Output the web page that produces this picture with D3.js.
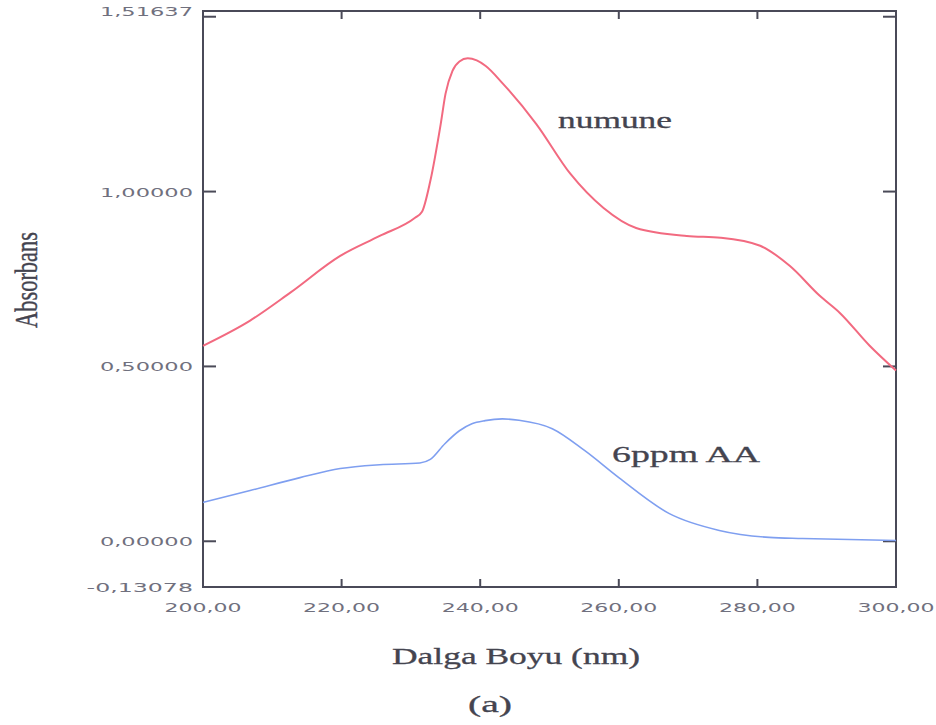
<!DOCTYPE html>
<html>
<head>
<meta charset="utf-8">
<script src="https://cdn.jsdelivr.net/npm/d3@7"></script>
<style>
  body { margin: 0; background: #fff; }
  svg { display: block; }
</style>
</head>
<body>
<svg id="chart" width="936" height="725"></svg>
<script>
// wavelength (nm) and absorbance
var numuneX = [200, 206.8, 212.6, 219.8, 225.5, 230.6, 231.6, 232.8, 234.3, 235.0, 236.0, 237.0, 238.2, 239.5, 240.8, 243.3, 248.1, 253, 257.8, 262.5, 269.8, 274.7, 280.4, 284.7, 289, 291.9, 296.2, 300];
var numuneY = [0.559, 0.631, 0.711, 0.816, 0.873, 0.925, 0.942, 1.030, 1.193, 1.280, 1.345, 1.372, 1.381, 1.375, 1.359, 1.308, 1.193, 1.051, 0.953, 0.896, 0.873, 0.868, 0.845, 0.787, 0.702, 0.653, 0.559, 0.488];

var aaX = [200, 206.8, 214, 219.8, 225.5, 231.3, 232.8, 234.9, 237, 238.8, 240.7, 243.2, 245.6, 250.4, 255.1, 260, 267.3, 274.5, 281.7, 286.5, 300];
var aaY = [0.111, 0.145, 0.182, 0.208, 0.219, 0.224, 0.234, 0.279, 0.316, 0.336, 0.345, 0.350, 0.346, 0.322, 0.259, 0.182, 0.079, 0.031, 0.011, 0.008, 0.002];

var xTicks = [200, 220, 240, 260, 280, 300];
var xTickLabels = ["200,00", "220,00", "240,00", "260,00", "280,00", "300,00"];
var yTicks = [0, 0.5, 1.0, 1.5];
var yLabelValues = [-0.13078, 0, 0.5, 1.0, 1.51637];
var yLabels = ["-0,13078", "0,00000", "0,50000", "1,00000", "1,51637"];

var svg = d3.select("#chart");

// plot frame, in pixels
var plotL = 203, plotR = 896, plotT = 11, plotB = 587;

var x = d3.scaleLinear().domain([200, 300]).range([plotL, plotR]);
var y = d3.scaleLinear().domain([-0.13078, 1.51637]).range([plotB, plotT]);

var frameColor = "#4a4a58";
var labelColor = "#70707e";
var textColor = "#44444f";

// frame
svg.append("rect")
    .attr("x", plotL).attr("y", plotT)
    .attr("width", plotR - plotL).attr("height", plotB - plotT)
    .attr("fill", "none")
    .attr("stroke", frameColor)
    .attr("stroke-width", 2);

// ticks, inward on all four sides
var inner = xTicks.slice(1, -1);
svg.selectAll(".xtb").data(inner).enter().append("line")
    .attr("x1", d => x(d)).attr("x2", d => x(d))
    .attr("y1", plotB).attr("y2", plotB - 8)
    .attr("stroke", frameColor).attr("stroke-width", 2);
svg.selectAll(".xtt").data(inner).enter().append("line")
    .attr("x1", d => x(d)).attr("x2", d => x(d))
    .attr("y1", plotT).attr("y2", plotT + 8)
    .attr("stroke", frameColor).attr("stroke-width", 2);
svg.selectAll(".ytl").data(yTicks).enter().append("line")
    .attr("x1", plotL).attr("x2", plotL + 13)
    .attr("y1", d => y(d)).attr("y2", d => y(d))
    .attr("stroke", frameColor).attr("stroke-width", 2);
svg.selectAll(".ytr").data(yTicks).enter().append("line")
    .attr("x1", plotR).attr("x2", plotR - 13)
    .attr("y1", d => y(d)).attr("y2", d => y(d))
    .attr("stroke", frameColor).attr("stroke-width", 2);

// tick labels
svg.selectAll(".xl").data(xTicks).enter().append("text")
    .attr("x", d => x(d))
    .attr("y", 612)
    .attr("text-anchor", "middle")
    .attr("font-family", "DejaVu Sans, sans-serif")
    .attr("font-size", 12)
    .attr("fill", labelColor)
    .attr("textLength", 77)
    .attr("lengthAdjust", "spacingAndGlyphs")
    .text((d, i) => xTickLabels[i]);

svg.selectAll(".yl").data(yLabelValues).enter().append("text")
    .attr("x", 193)
    .attr("y", d => y(d) + 5)
    .attr("text-anchor", "end")
    .attr("font-family", "DejaVu Sans, sans-serif")
    .attr("font-size", 13)
    .attr("fill", labelColor)
    .attr("textLength", (d, i) => yLabels[i].length * 13.3)
    .attr("lengthAdjust", "spacingAndGlyphs")
    .text((d, i) => yLabels[i]);

// curves
var line = d3.line().curve(d3.curveMonotoneX);

svg.append("path")
    .attr("d", line(numuneX.map((v, i) => [x(v), y(numuneY[i])])))
    .attr("fill", "none")
    .attr("stroke", "#f26a80")
    .attr("stroke-width", 2);

svg.append("path")
    .attr("d", line(aaX.map((v, i) => [x(v), y(aaY[i])])))
    .attr("fill", "none")
    .attr("stroke", "#7f9ff0")
    .attr("stroke-width", 1.6);

// texts
function serif(sel, size, len) {
    return sel.attr("font-family", "Liberation Serif, Times New Roman, serif")
        .attr("font-size", size)
        .attr("fill", textColor)
        .attr("stroke", textColor)
        .attr("stroke-width", 0.3)
        .attr("textLength", len)
        .attr("lengthAdjust", "spacingAndGlyphs");
}

serif(svg.append("text").attr("x", 558).attr("y", 128), 24, 114).text("numune");
serif(svg.append("text").attr("x", 612).attr("y", 462), 24, 148).text("6ppm AA");
serif(svg.append("text").attr("x", 392).attr("y", 664), 24, 248).text("Dalga Boyu (nm)");
serif(svg.append("text").attr("x", 468).attr("y", 712), 23, 44).text("(a)");

serif(svg.append("text")
    .attr("transform", "translate(37,280) scale(1.4,1) rotate(-90)")
    .attr("text-anchor", "middle"), 22, 96).text("Absorbans");
</script>
</body>
</html>
